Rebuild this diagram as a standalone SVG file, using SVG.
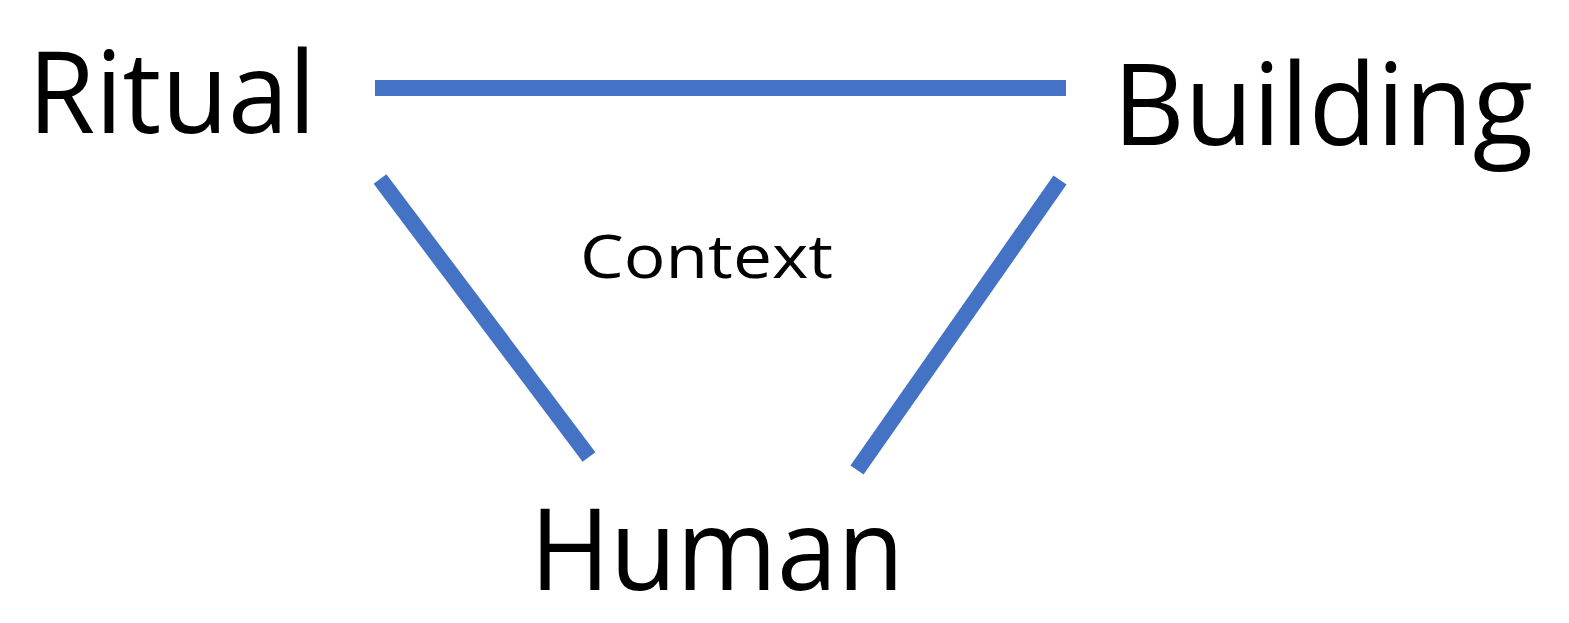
<svg xmlns="http://www.w3.org/2000/svg" width="1569" height="623" viewBox="0 0 1569 623">
<style>
.l{stroke:#4472C4;stroke-width:16;fill:none}
.t{font-family:"Open Sans","Noto Sans",sans-serif;fill:#000}
</style>
<rect width="1569" height="623" fill="#fff"/>
<g id="connectors">
<line class="l" x1="375" y1="88" x2="1066" y2="88"/>
<line class="l" x1="380" y1="179" x2="589" y2="457"/>
<line class="l" x1="1060" y1="180" x2="857" y2="470"/>
</g>
<g id="ritual"><text class="t" x="28" y="133" font-size="114" textLength="288" lengthAdjust="spacingAndGlyphs">Ritual</text></g>
<g id="building"><text class="t" x="1113" y="145" font-size="114" textLength="420" lengthAdjust="spacingAndGlyphs">Building</text></g>
<g id="human"><text class="t" x="530" y="590" font-size="114" textLength="374" lengthAdjust="spacingAndGlyphs">Human</text></g>
<g id="context"><text class="t" x="580" y="278" font-size="60" textLength="253" lengthAdjust="spacingAndGlyphs">Context</text></g>
</svg>
